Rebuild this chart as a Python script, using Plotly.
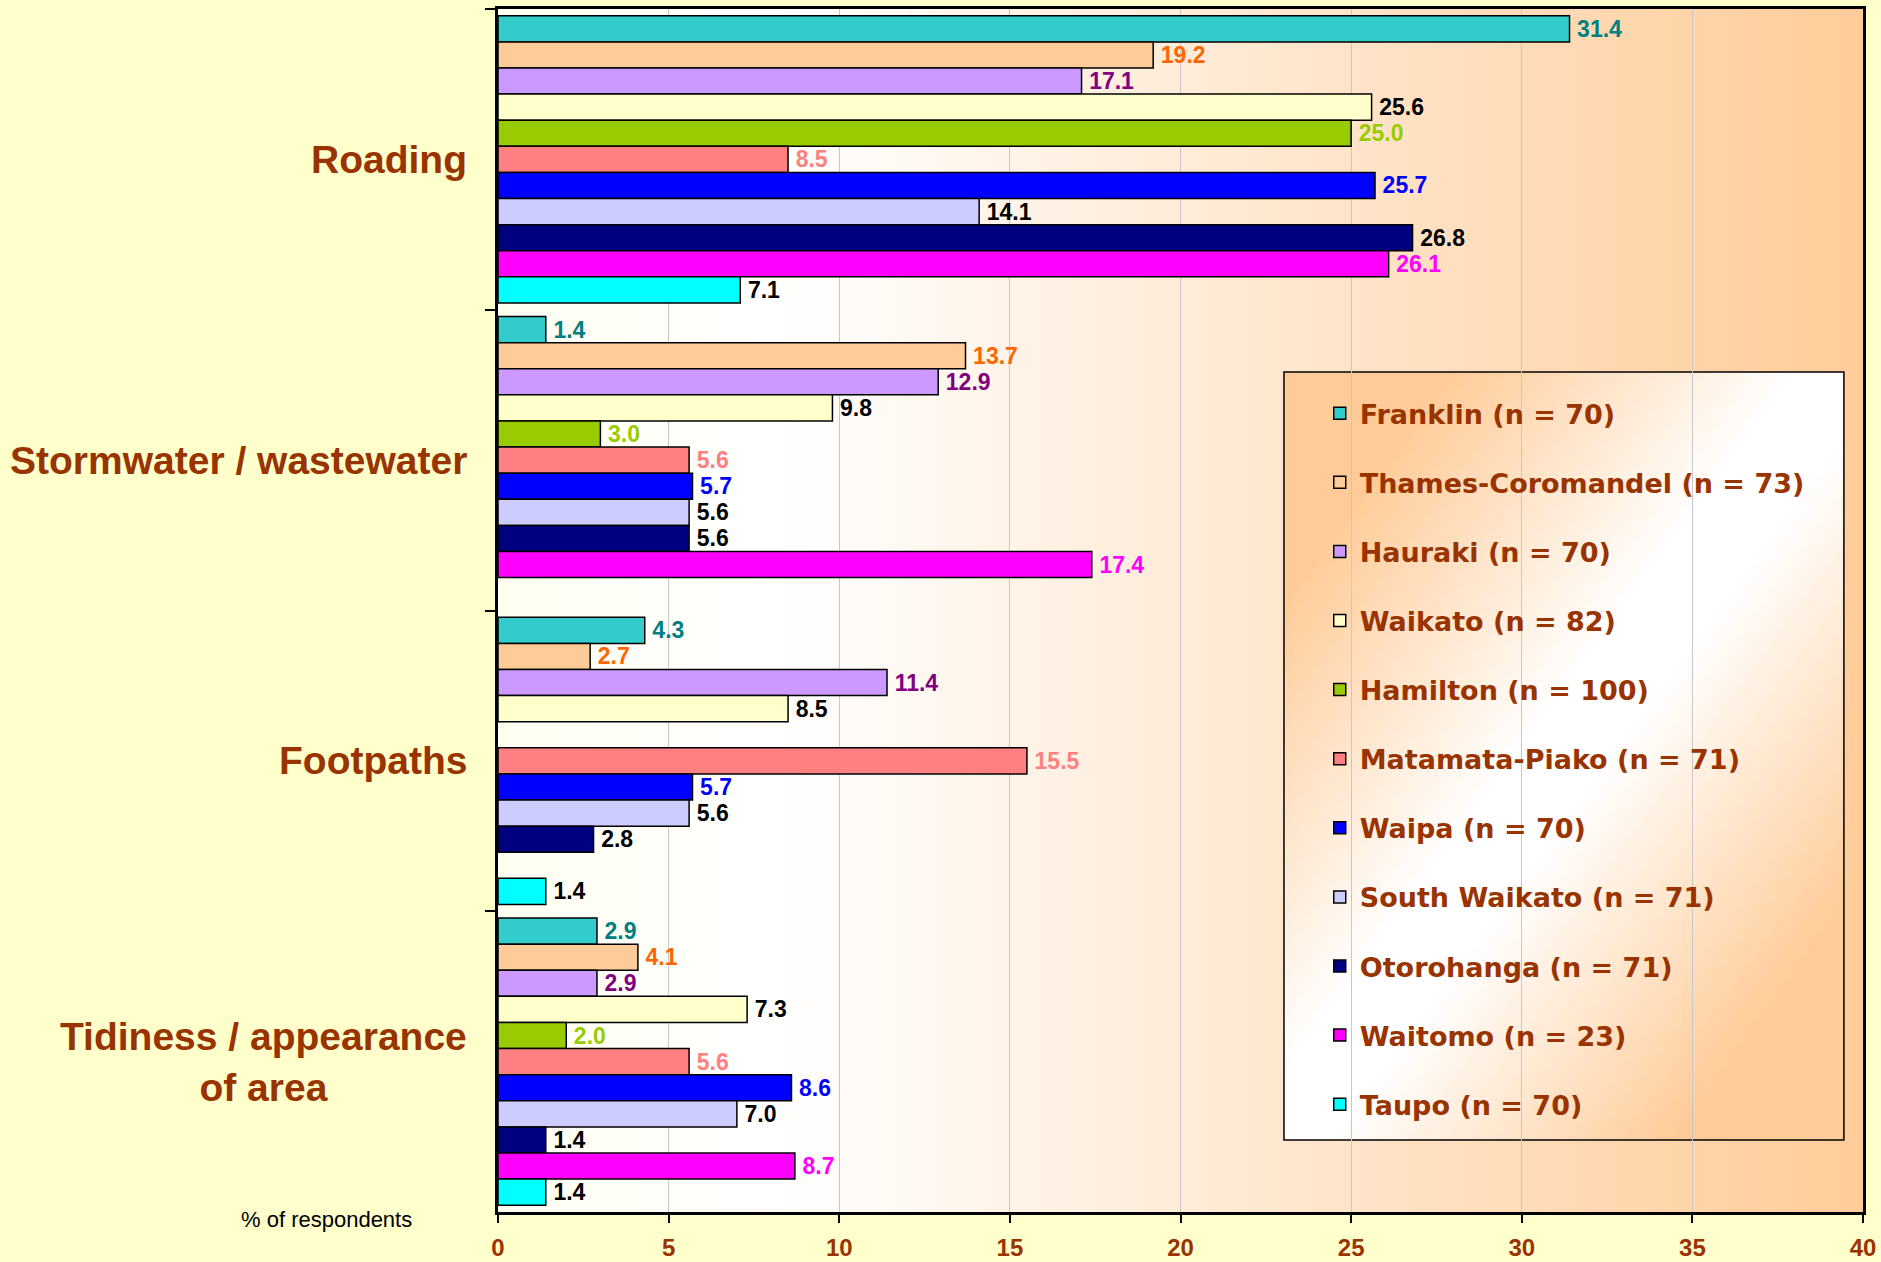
import plotly.graph_objects as go

categories = ["Roading", "Stormwater / wastewater", "Footpaths", "Tidiness / appearance of area"]
category_labels = ["Roading", "Stormwater / wastewater", "Footpaths", "Tidiness / appearance<br>of area"]

series_names = [
    "Franklin (n = 70)", "Thames-Coromandel (n = 73)", "Hauraki (n = 70)", "Waikato (n = 82)",
    "Hamilton (n = 100)", "Matamata-Piako (n = 71)", "Waipa (n = 70)", "South Waikato (n = 71)",
    "Otorohanga (n = 71)", "Waitomo (n = 23)", "Taupo (n = 70)",
]

franklin = [31.4, 1.4, 4.3, 2.9]
thames = [19.2, 13.7, 2.7, 4.1]
hauraki = [17.1, 12.9, 11.4, 2.9]
waikato = [25.6, 9.8, 8.5, 7.3]
hamilton = [25.0, 3.0, None, 2.0]
matamata = [8.5, 5.6, 15.5, 5.6]
waipa = [25.7, 5.7, 5.7, 8.6]
south_waikato = [14.1, 5.6, 5.6, 7.0]
otorohanga = [26.8, 5.6, 2.8, 1.4]
waitomo = [26.1, 17.4, None, 8.7]
taupo = [7.1, None, 1.4, 1.4]

series_values = [franklin, thames, hauraki, waikato, hamilton, matamata, waipa,
                 south_waikato, otorohanga, waitomo, taupo]

bar_colors = ["#33CCCC", "#FFCC99", "#CC99FF", "#FFFFCC", "#99CC00", "#FF8080",
              "#0000FF", "#CCCCFF", "#000080", "#FF00FF", "#00FFFF"]
label_colors = ["#008080", "#FF6600", "#800080", "#000000", "#99CC00", "#FF8080",
                "#0000FF", "#000000", "#000000", "#FF00FF", "#000000"]

x_ticks = [0, 5, 10, 15, 20, 25, 30, 35, 40]

BROWN = "#993300"

fig = go.Figure()
for name, vals, bc, lc in zip(series_names, series_values, bar_colors, label_colors):
    fig.add_trace(go.Bar(
        y=categories, x=vals, name=name, orientation="h",
        marker=dict(color=bc, line=dict(color="black", width=1.5)),
        texttemplate="\u2009%{x:.1f}", textposition="outside", constraintext="none",
        textfont=dict(family="Liberation Sans, Arial", size=23, color=lc, weight="bold"),
        cliponaxis=False, legendgroup=name,
    ))


def mix(c1, c2, t):
    a = [int(c1[i:i + 2], 16) for i in (1, 3, 5)]
    b = [int(c2[i:i + 2], 16) for i in (1, 3, 5)]
    return "#%02X%02X%02X" % tuple(round(a[k] + (b[k] - a[k]) * t) for k in range(3))


def clip(poly, f):
    # keep points with f(p) >= 0
    out = []
    n = len(poly)
    for k in range(n):
        p, q = poly[k], poly[(k + 1) % n]
        fp, fq = f(p), f(q)
        if fp >= 0:
            out.append(p)
        if (fp >= 0) != (fq >= 0):
            t = fp / (fp - fq)
            out.append((p[0] + (q[0] - p[0]) * t, p[1] + (q[1] - p[1]) * t))
    return out


shapes = []
# plot-area horizontal gradient (white -> peach)
N = 100
for i in range(N):
    t0, t1 = i / N, (i + 1) / N
    tc = (t0 + t1) / 2
    if tc < 0.2:
        col = mix("#FFFFF2", "#FFFFFF", tc / 0.2)
    else:
        col = mix("#FFFFFF", "#FFCC99", (tc - 0.2) / 0.8)
    shapes.append(dict(type="rect", xref="x domain", yref="y domain", x0=t0, x1=t1 + 0.002,
                       y0=0, y1=1, fillcolor=col, line=dict(width=0), layer="below"))

# legend box with diagonal gradient (white along the rising diagonal)
LX0, LX1, LY0, LY1 = 0.5758, 0.986, 0.0599, 0.6983
NB = 90
square = [(0.0, 0.0), (1.0, 0.0), (1.0, 1.0), (0.0, 1.0)]
for i in range(NB):
    d0 = -1 + 2 * i / NB
    d1 = -1 + 2 * (i + 1) / NB + 0.004
    poly = clip(square, lambda p, d0=d0: (p[0] - p[1]) - d0)
    poly = clip(poly, lambda p, d1=d1: d1 - (p[0] - p[1]))
    if len(poly) < 3:
        continue
    dc = abs((d0 + d1) / 2)
    pk = max(0.0, min(1.0, (dc - 0.08) / 0.62))
    col = mix("#FFFFFF", "#FFCC99", pk)
    path = "M " + " L ".join(
        "%.5f,%.5f" % (LX0 + (LX1 - LX0) * u, LY0 + (LY1 - LY0) * v) for u, v in poly) + " Z"
    shapes.append(dict(type="path", xref="paper", yref="paper", path=path,
                       fillcolor=col, line=dict(width=0), layer="between"))
shapes.append(dict(type="rect", xref="paper", yref="paper", x0=LX0, x1=LX1, y0=LY0, y1=LY1,
                   fillcolor="rgba(0,0,0,0)", line=dict(color="black", width=1.5), layer="between"))

annotations = []
for cat, lab in zip(categories, category_labels):
    annotations.append(dict(
        x=-0.021, xref="paper", y=cat, yref="y", text=lab, showarrow=False,
        xanchor="right", yanchor="middle", align="center",
        font=dict(family="Liberation Sans, Arial", size=39, color=BROWN, weight="bold"),
    ))
annotations.append(dict(
    x=-0.126, xref="paper", y=-0.006, yref="paper", text="% of respondents", showarrow=False,
    xanchor="center", yanchor="middle",
    font=dict(family="Liberation Sans, Arial", size=22, color="black"),
))

fig.update_layout(
    width=1881, height=1262,
    margin=dict(l=498, r=18, t=9, b=50),
    paper_bgcolor="#FFFFCC", plot_bgcolor="#FFFFFF",
    barmode="group", bargap=0.045, bargroupgap=0,
    shapes=shapes, annotations=annotations,
    legend=dict(
        x=0.602, y=0.684, xanchor="left", yanchor="top",
        bgcolor="rgba(0,0,0,0)", borderwidth=0,
        font=dict(family="DejaVu Sans, Verdana", size=27, color=BROWN, weight="bold"),
        tracegroupgap=31,
    ),
    xaxis=dict(
        range=[0, 40], tickvals=x_ticks, ticktext=[str(v) for v in x_ticks],
        showgrid=True, gridcolor="#C8C8C8", gridwidth=1, zeroline=False,
        showline=True, linecolor="black", linewidth=3, mirror=True,
        ticks="outside", ticklen=8, tickwidth=1.5, tickcolor="black",
        ticklabelstandoff=4, automargin=False,
        tickfont=dict(family="Liberation Sans, Arial", size=24, color=BROWN, weight="bold"),
    ),
    yaxis=dict(
        autorange="reversed", type="category", showticklabels=False, automargin=False,
        tickson="boundaries", ticks="outside", ticklen=10, tickwidth=1.5, tickcolor="black",
        showline=True, linecolor="black", linewidth=3, mirror=True, showgrid=False,
    ),
)

fig.write_html("out.html", config={"displayModeBar": False},
               post_script="document.body.style.margin='0';document.body.style.padding='0';")
